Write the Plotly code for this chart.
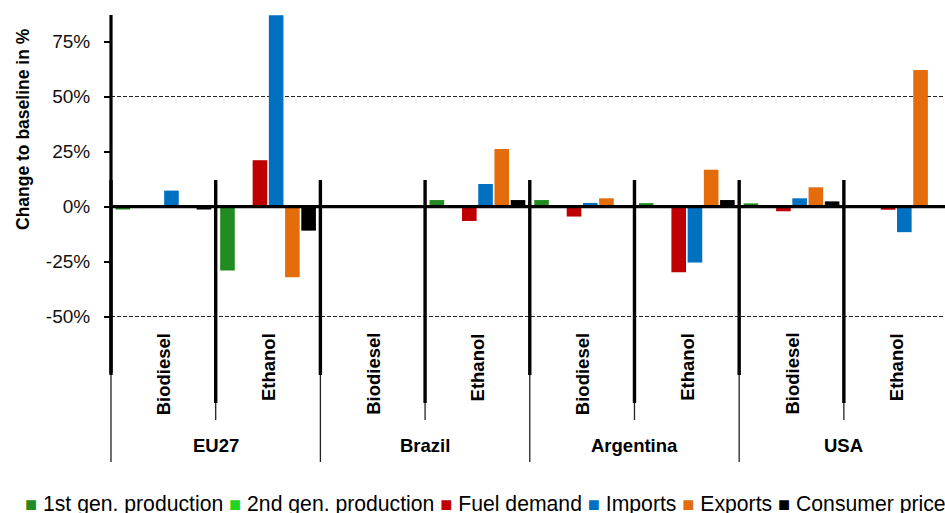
import plotly.graph_objects as go

# Country / fuel groups along the category axis
countries = ["EU27", "Brazil", "Argentina", "USA"]
fuels = ["Biodiesel", "Ethanol"]

series_names = ["1st gen. production", "2nd gen. production", "Fuel demand",
                "Imports", "Exports", "Consumer price"]
series_colors = ["#228B22", "#22D522", "#C00000", "#0070C0", "#E46C0A", "#000000"]

# Change to baseline in %, order: EU27 Bio, EU27 Eth, Brazil Bio, Brazil Eth,
# Argentina Bio, Argentina Eth, USA Bio, USA Eth
first_gen = [-1.3, -29.0, 0.0, 3.0, 3.0, 1.6, 1.5, 0.0]
second_gen = [0.0, 0.0, 0.0, 0.0, 0.0, 0.0, 0.0, 0.0]
fuel_demand = [0.0, 21.1, 0.0, -6.5, -4.5, -29.8, -2.1, -1.4]
imports = [7.3, 87.0, 0.0, 10.3, 1.7, -25.4, 3.8, -11.6]
exports = [0.0, -32.1, 0.0, 26.2, 3.8, 16.8, 8.8, 62.1]
consumer_price = [-1.3, -10.9, 0.0, 3.0, 0.0, 3.0, 2.4, 0.0]

tick_vals = [-50, -25, 0, 25, 50, 75]
tick_text = ["-50%", "-25%", "0%", "25%", "50%", "75%"]
grid_vals = [-50, 50]

series_values = [first_gen, second_gen, fuel_demand, imports, exports, consumer_price]

# Figure geometry
W, H = 945, 513
ML, MR, MT, MB = 111, 0, 15, 140
Y_MIN, Y_MAX = -75.6, 87.1
X_MIN, X_MAX = -0.5, 7.466

FONT = "Liberation Sans, Arial, sans-serif"


def paper_y(px):
    return (H - MB - px) / (H - MT - MB)


def paper_x_px(px):
    return (px - ML) / (W - ML - MR)


def paper_x(v):
    return (v - X_MIN) / (X_MAX - X_MIN)


n_groups = len(countries) * len(fuels)
x_pos = list(range(n_groups))

fig = go.Figure()
for name, color, vals in zip(series_names, series_colors, series_values):
    fig.add_trace(go.Bar(
        x=x_pos, y=vals, name=name,
        marker=dict(color=color, line=dict(width=0)),
        showlegend=False,
    ))

shapes = []
# zero line of the category axis
shapes.append(dict(type="line", xref="paper", yref="y", x0=0, x1=1, y0=0, y1=0,
                   line=dict(color="black", width=3.4), layer="above"))
# value axis line
shapes.append(dict(type="line", xref="paper", yref="paper", x0=0, x1=0, y0=1, y1=0,
                   line=dict(color="black", width=3.2), layer="above"))

# separators between fuels and between countries
for b in range(n_groups):
    xb = b - 0.5
    major = (b % len(fuels) == 0)
    xp = paper_x(xb)
    thin_bottom = paper_y(462 if major else 420)
    thick_bottom = paper_y(375 if major else 403)
    shapes.append(dict(type="line", xref="paper", yref="paper", x0=xp, x1=xp,
                       y0=0, y1=thin_bottom,
                       line=dict(color="#222222", width=1.3), layer="above"))
    shapes.append(dict(type="line", xref="paper", yref="paper", x0=xp, x1=xp,
                       y0=paper_y(180), y1=thick_bottom,
                       line=dict(color="black", width=3.4), layer="above"))

annotations = []
# fuel labels (rotated) and country labels
for ci, country in enumerate(countries):
    for fi, fuel in enumerate(fuels):
        gx = ci * len(fuels) + fi
        annotations.append(dict(
            text=f"<b>{fuel}</b>", x=gx, xref="x", y=paper_y(331), yref="paper",
            xanchor="center", yanchor="top", textangle=-90, showarrow=False,
            font=dict(family=FONT, size=18.5, color="black"),
        ))
    annotations.append(dict(
        text=f"<b>{country}</b>", x=ci * len(fuels) + 0.5, xref="x",
        y=paper_y(445), yref="paper", xanchor="center", yanchor="middle",
        showarrow=False, font=dict(family=FONT, size=18.5, color="black"),
    ))

# value axis title
annotations.append(dict(
    text="<b>Change to baseline in %</b>", x=paper_x_px(23), xref="paper",
    y=paper_y(129), yref="paper", xanchor="center", yanchor="middle",
    textangle=-90, showarrow=False, font=dict(family=FONT, size=17.5, color="black"),
))

# legend row
legend_text = " ".join(
    f"<span style='color:{c};font-size:20px'>■</span> {n}"
    for n, c in zip(series_names, series_colors)
)
annotations.append(dict(
    text=legend_text, x=paper_x_px(23), xref="paper", y=paper_y(490), yref="paper",
    xanchor="left", yanchor="top", showarrow=False, align="left",
    font=dict(family=FONT, size=21.2, color="black"),
))

fig.update_layout(
    width=W, height=H,
    margin=dict(l=ML, r=MR, t=MT, b=MB),
    paper_bgcolor="white", plot_bgcolor="white",
    barmode="group", bargap=0.07, bargroupgap=0.1,
    font=dict(family=FONT, color="black"),
    xaxis=dict(range=[X_MIN, X_MAX], showgrid=False, zeroline=False,
               showticklabels=False, ticks="", showline=False, fixedrange=True),
    yaxis=dict(range=[Y_MIN, Y_MAX], tickvals=tick_vals, ticktext=tick_text,
               showgrid=False, zeroline=False, showline=False,
               ticks="outside", ticklen=6, tickwidth=1.5, tickcolor="black",
               ticklabelstandoff=10,
               tickfont=dict(family=FONT, size=19, color="#111111")),
    yaxis2=dict(range=[Y_MIN, Y_MAX], overlaying="y", side="left",
                tickvals=grid_vals, showticklabels=False, ticks="",
                showgrid=True, gridcolor="#222222", gridwidth=1,
                griddash="4px,2px", zeroline=False, showline=False),
    shapes=shapes,
    annotations=annotations,
    showlegend=False,
)

# invisible trace so the grid axis is rendered
fig.add_trace(go.Scatter(x=[None], y=[None], yaxis="y2", showlegend=False,
                         hoverinfo="skip"))

fig.write_html("out.html")
